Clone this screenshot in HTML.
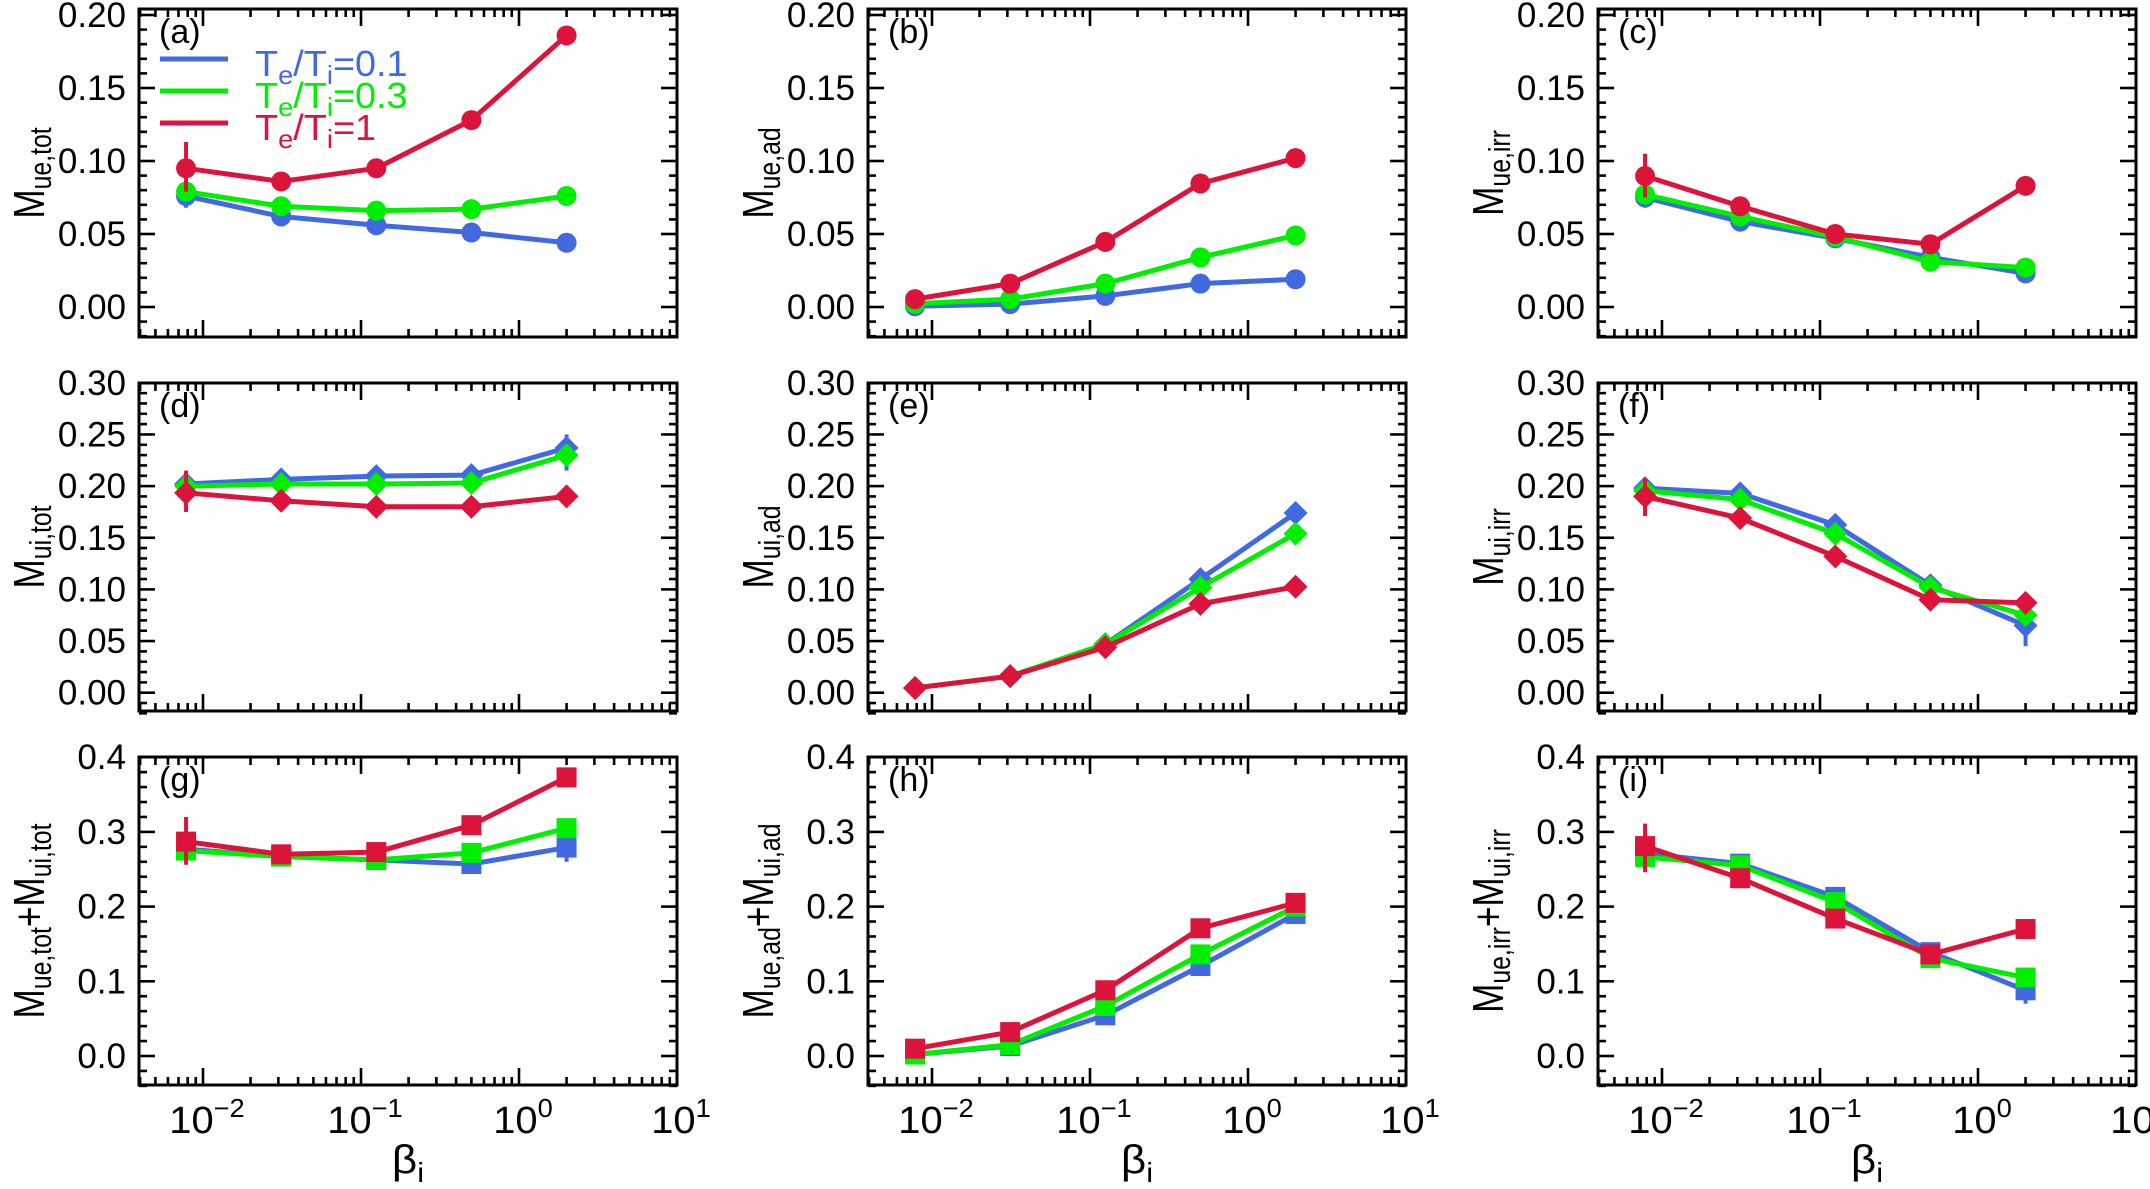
<!DOCTYPE html>
<html><head><meta charset="utf-8"><title>Momentum transport vs beta_i</title>
<style>
html,body{margin:0;padding:0;background:#fff;}
svg{display:block;font-family:"Liberation Sans",sans-serif;}
</style></head>
<body>
<svg id="fig" width="2150" height="1189" viewBox="0 0 2150 1189" xmlns="http://www.w3.org/2000/svg"></svg>
<script>
// ---- data ----
const beta = [0.0078125, 0.03125, 0.125, 0.5, 2];
const seriesNames = ["Te/Ti=0.1", "Te/Ti=0.3", "Te/Ti=1"];
// panel a : M_ue,tot
const aBlue  = [0.076, 0.062, 0.056, 0.051, 0.044];
const aGreen = [0.079, 0.069, 0.066, 0.067, 0.076];
const aRed   = [0.095, 0.086, 0.095, 0.128, 0.186];
// panel b : M_ue,ad
const bBlue  = [0.0005, 0.002, 0.0076, 0.016, 0.019];
const bGreen = [0.0022, 0.0054, 0.016, 0.034, 0.049];
const bRed   = [0.0054, 0.016, 0.0446, 0.0846, 0.102];
// panel c : M_ue,irr
const cBlue  = [0.075, 0.0585, 0.047, 0.034, 0.023];
const cGreen = [0.077, 0.062, 0.048, 0.031, 0.027];
const cRed   = [0.0897, 0.069, 0.050, 0.043, 0.083];
// panel d : M_ui,tot
const dBlue  = [0.202, 0.2065, 0.2097, 0.2106, 0.237];
const dGreen = [0.200, 0.202, 0.202, 0.203, 0.230];
const dRed   = [0.1935, 0.1858, 0.180, 0.180, 0.190];
// panel e : M_ui,ad
const eBlue  = [0.0046, 0.016, 0.047, 0.110, 0.174];
const eGreen = [0.0046, 0.016, 0.047, 0.102, 0.154];
const eRed   = [0.0046, 0.016, 0.044, 0.086, 0.1026];
// panel f : M_ui,irr
const fBlue  = [0.198, 0.193, 0.1625, 0.104, 0.065];
const fGreen = [0.1955, 0.187, 0.154, 0.102, 0.075];
const fRed   = [0.190, 0.169, 0.132, 0.090, 0.087];
// panel g : sum tot
const gBlue  = [0.277, 0.267, 0.2625, 0.257, 0.279];
const gGreen = [0.275, 0.267, 0.2625, 0.272, 0.305];
const gRed   = [0.287, 0.270, 0.273, 0.309, 0.373];
// panel h : sum ad
const hBlue  = [0.002, 0.0134, 0.0545, 0.1205, 0.190];
const hGreen = [0.002, 0.015, 0.067, 0.136, 0.200];
const hRed   = [0.0098, 0.032, 0.088, 0.171, 0.205];
// panel i : sum irr
const iBlue  = [0.271, 0.2575, 0.213, 0.139, 0.088];
const iGreen = [0.2665, 0.255, 0.206, 0.131, 0.105];
const iRed   = [0.281, 0.238, 0.184, 0.136, 0.170];
// error bars: [panel, series, point index, low, high]
const errorBars = [
  ["a",2,0,0.079,0.113],["a",0,0,0.068,0.082],
  ["c",2,0,0.075,0.105],["c",0,0,0.068,0.081],
  ["d",2,0,0.175,0.215],["d",0,4,0.215,0.250],
  ["f",2,0,0.171,0.208],["f",0,4,0.045,0.080],
  ["g",2,0,0.256,0.320],["g",0,4,0.260,0.290],
  ["i",2,0,0.246,0.311],["i",0,4,0.070,0.100]
];
const rowTicks1 = ["0.00","0.05","0.10","0.15","0.20"];
const rowTicks2 = ["0.00","0.05","0.10","0.15","0.20","0.25","0.30"];
const rowTicks3 = ["0.0","0.1","0.2","0.3","0.4"];
const xTickExps = ["-2","-1","0","1"];

// ---- layout ----
const NS = "http://www.w3.org/2000/svg";
const svg = document.getElementById("fig");
const colLeft = [139, 868, 1598];
const PW = 538;
const XMIN = -2.405, XMAX = 1.0;
const rows = [
  {top:9,   bottom:337,  zero:307,   k:1460, ticks:rowTicks1, step:0.05, minor:0.01, min:-0.02},
  {top:383, bottom:711,  zero:692.7, k:1033, ticks:rowTicks2, step:0.05, minor:0.01, min:-0.02},
  {top:757, bottom:1085, zero:1056,  k:747,  ticks:rowTicks3, step:0.1,  minor:0.02, min:-0.04}
];
const colors = ["#4169e1", "#00ee00", "#dc143c"];
const panels = [
  {id:"a", r:0, c:0, data:[aBlue,aGreen,aRed], m:"circle", t:[["ue,tot"]]},
  {id:"b", r:0, c:1, data:[bBlue,bGreen,bRed], m:"circle", t:[["ue,ad"]]},
  {id:"c", r:0, c:2, data:[cBlue,cGreen,cRed], m:"circle", t:[["ue,irr"]]},
  {id:"d", r:1, c:0, data:[dBlue,dGreen,dRed], m:"diamond", t:[["ui,tot"]]},
  {id:"e", r:1, c:1, data:[eBlue,eGreen,eRed], m:"diamond", t:[["ui,ad"]]},
  {id:"f", r:1, c:2, data:[fBlue,fGreen,fRed], m:"diamond", t:[["ui,irr"]]},
  {id:"g", r:2, c:0, data:[gBlue,gGreen,gRed], m:"square", t:[["ue,tot"],["ui,tot"]]},
  {id:"h", r:2, c:1, data:[hBlue,hGreen,hRed], m:"square", t:[["ue,ad"],["ui,ad"]]},
  {id:"i", r:2, c:2, data:[iBlue,iGreen,iRed], m:"square", t:[["ue,irr"],["ui,irr"]]}
];

function el(tag, attrs, parent){
  const e = document.createElementNS(NS, tag);
  for (const k in attrs) e.setAttribute(k, attrs[k]);
  (parent||svg).appendChild(e);
  return e;
}
function xPos(c, b){ return colLeft[c] + (Math.log10(b) - XMIN) / (XMAX - XMIN) * PW; }
function yPos(r, v){ return rows[r].zero - v * rows[r].k; }

panels.forEach(p => {
  const R = rows[p.r], L = colLeft[p.c], Rt = L + PW;
  const g = el("g", {});
  
  

  // x ticks (top & bottom)
  for (let d = -3; d <= 1; d++) {
    for (let m = 1; m <= 9; m++) {
      const lv = d + Math.log10(m);
      if (lv < XMIN - 1e-6 || lv > XMAX + 1e-6) continue;
      const x = L + (lv - XMIN) / (XMAX - XMIN) * PW;
      const len = m === 1 ? 17 : 8;
      el("line", {x1:x, y1:R.bottom, x2:x, y2:R.bottom-len, stroke:"#000","stroke-width":2.6}, g);
      el("line", {x1:x, y1:R.top, x2:x, y2:R.top+len, stroke:"#000","stroke-width":2.6}, g);
    }
  }
  // y ticks
  const nMinor = Math.round((R.ticks.length - 1) * R.step / R.minor);
  for (let j = -Math.round(-R.min / R.minor); j <= nMinor; j++) {
    const v = j * R.minor;
    const y = yPos(p.r, v);
    if (y < R.top - 1) continue;
    const major = Math.abs(v / R.step - Math.round(v / R.step)) < 1e-6;
    const len = major ? 16 : 8;
    el("line", {x1:L, y1:y, x2:L+len, y2:y, stroke:"#000","stroke-width":2.6}, g);
    el("line", {x1:Rt, y1:y, x2:Rt-len, y2:y, stroke:"#000","stroke-width":2.6}, g);
  }
  // frame
  const fr = el("rect", {x:L, y:R.top, width:PW, height:R.bottom-R.top, fill:"none", stroke:"#000","stroke-width":3}, g);
  
  

  // y tick labels
  R.ticks.forEach((lab, j) => {
    const y = yPos(p.r, j * R.step);
    const t = el("text", {transform:`translate(${L-13},${y+12})`, "text-anchor":"end", "font-size":35}, g);
    t.textContent = lab;
    
    
  });
  // x tick labels (bottom row only)
  if (p.r === 2) {
    xTickExps.forEach((ex, j) => {
      const x = xPos(p.c, Math.pow(10, -2 + j));
      const t = el("text", {transform:`translate(${x+4},1133) scale(1.05,1)`, "text-anchor":"middle", "font-size":38}, g);
      
      
      const a = el("tspan", {}, t); a.textContent = "10";
      const b = el("tspan", {dy:-16, "font-size":26}, t); b.textContent = ex.replace("-", "\u2212");
    });
    const xt = el("text", {transform:`translate(${L+PW/2},1173) scale(1.1,1)`, "text-anchor":"middle", "font-size":40}, g);
    
    
    const xb = el("tspan", {}, xt); xb.textContent = "\u03b2";
    const xi = el("tspan", {dy:9, "font-size":28}, xt); xi.textContent = "i";
  }
  // y axis title (rotated)
  const cy = (R.top + R.bottom) / 2;
  const yt = el("text", {transform:`translate(${L-95},${cy}) rotate(-90) scale(0.8,1)`, "text-anchor":"middle", "font-size":44}, g);
  
  
  p.t.forEach((sub, k) => {
    if (k > 0) { const pl = el("tspan", {dy:-7}, yt); pl.textContent = "+M"; }
    else { const m = el("tspan", {}, yt); m.textContent = "M"; }
    const s = el("tspan", {dy:7, "font-size":31}, yt); s.textContent = sub[0];
  });
  // panel letter
  const pl = el("text", {x:L+20, y:R.top+34, "font-size":34}, g);
  pl.textContent = "(" + p.id + ")";
  
  

  // series
  p.data.forEach((vals, s) => {
    const sg = el("g", {}, g);
    
    
    errorBars.filter(e => e[0] === p.id && e[1] === s).forEach(e => {
      const x = xPos(p.c, beta[e[2]]);
      const eb = el("line", {x1:x, x2:x, y1:yPos(p.r, e[3]), y2:yPos(p.r, e[4]), stroke:colors[s], "stroke-width":4}, sg);
      
      
    });
    const pts = vals.map((v, i) => xPos(p.c, beta[i]) + "," + yPos(p.r, v)).join(" ");
    const ln = el("polyline", {points:pts, fill:"none", stroke:colors[s], "stroke-width":5, "stroke-linejoin":"round"}, sg);
    
    
    vals.forEach((v, i) => {
      const x = xPos(p.c, beta[i]), y = yPos(p.r, v);
      let mk;
      if (p.m === "circle") mk = el("circle", {cx:x, cy:y, r:10, fill:colors[s]}, sg);
      else if (p.m === "square") mk = el("rect", {x:x-10, y:y-10, width:20, height:20, fill:colors[s]}, sg);
      else mk = el("polygon", {points:`${x},${y-12} ${x+12},${y} ${x},${y+12} ${x-12},${y}`, fill:colors[s]}, sg);
      
      
    });
  });

  // legend in panel a
  if (p.id === "a") {
    const lg = el("g", {}, g);
    
    
    const vals = ["0.1", "0.3", "1"];
    [59, 91, 123].forEach((ly, s) => {
      const en = el("g", {}, lg);
      
      
      el("line", {x1:160, x2:228, y1:ly, y2:ly, stroke:colors[s], "stroke-width":5}, en);
      const t = el("text", {transform:`translate(255,${ly+17}) scale(1.05,1)`, "font-size":36, fill:colors[s]}, en);
      const a = el("tspan", {}, t); a.textContent = "T";
      const b = el("tspan", {dy:8, "font-size":26}, t); b.textContent = "e";
      const c = el("tspan", {dy:-8}, t); c.textContent = "/T";
      const d = el("tspan", {dy:8, "font-size":26}, t); d.textContent = "i";
      const e2 = el("tspan", {dy:-8}, t); e2.textContent = "=" + vals[s];
    });
  }
});
</script>
</body></html>
